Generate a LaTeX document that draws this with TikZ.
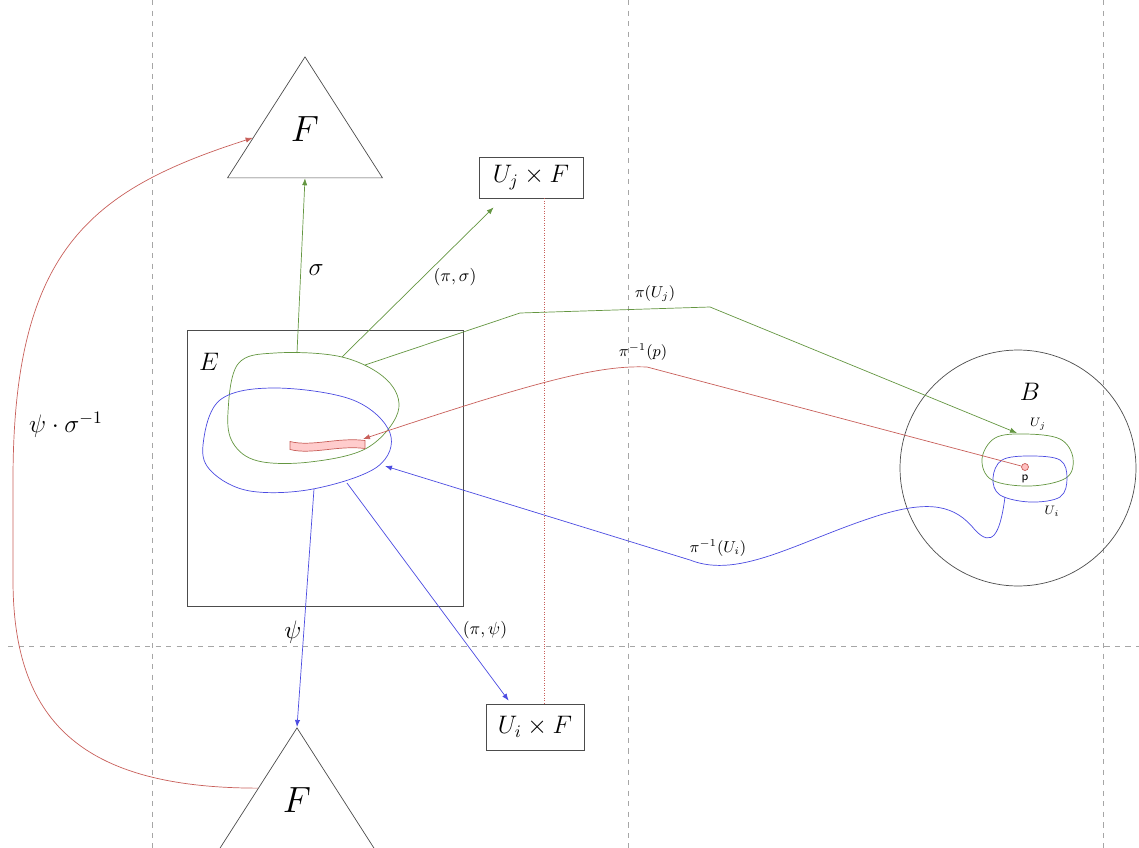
\documentclass[tikz,border=0pt]{standalone}
\usetikzlibrary{shapes.geometric,arrows.meta,calc}
\definecolor{fgreen}{RGB}{100,150,65}
\definecolor{fblue}{RGB}{75,75,225}
\definecolor{fred}{RGB}{200,95,90}

\begin{document}
\begin{tikzpicture}[x=0.02cm,y=-0.02cm,>={Latex[length=4pt,width=3pt]},
  grid/.style={black!35,dashed},
  tri/.style={draw=black!70,isosceles triangle,shape border rotate=90,isosceles triangle stretches,minimum width=3.1cm,minimum height=2.42cm,inner sep=0pt,text depth=9pt,anchor=apex},
  box/.style={draw=black!70,inner sep=0pt},
  gline/.style={fgreen},
  bline/.style={fblue},
  rline/.style={fred}]
\useasboundingbox (0,0) rectangle (1139,848);

\draw[grid] (152,0) -- (152,848);
\draw[grid] (628,0) -- (628,848);
\draw[grid] (1103,0) -- (1103,848);
\draw[grid] (8,646) -- (1139,646);

\node (Ft) at (305,56) [tri] {\huge $F$};
\node (Fb) at (297,727) [tri] {\huge $F$};
\node (UjF) at (531,177.5) [box, minimum width=2.08cm, minimum height=0.82cm] {\Large $U_j \times F$};
\node (UiF) at (535,727) [box, minimum width=1.96cm, minimum height=0.92cm] {\Large $U_i \times F$};
\draw[rline, densely dotted] (UjF.south -| 544,0) -- (UiF.north -| 544,0);

\node (E) at (325,468) [box, minimum size=5.52cm] {};
\node (El) at (209,362) {\Large $E$};
\draw[gline] plot[smooth cycle, tension=0.6] coordinates {(228,412) (238,364) (275,353) (342,357) (387,380) (398,412) (367,448) (310,462) (258,461) (233,443)};
\draw[bline] plot[smooth cycle, tension=0.6] coordinates {(203,445) (220,400) (275,388) (353,400) (390,433) (377,467) (313,489) (250,491) (212,472)};
\filldraw[fill=red!20, draw=fred] (290,441.5) .. controls (312,447) and (338,437) .. (365,440.5) -- (365,448.5) .. controls (338,445) and (312,455) .. (290,449.5) -- cycle;
\coordinate (gs) at (297,353);
\coordinate (gp) at (342,357);
\coordinate (gu) at (365,365);
\coordinate (bp) at (314,489);
\coordinate (bq) at (347,483);
\coordinate (bu) at (385,466);
\coordinate (band) at (363,439);

\node (B) at (1018,468) [draw=black!70, circle, minimum size=4.72cm] {};
\node (Bl) at (1030,392) {\Large $B$};
\draw[gline] plot[smooth cycle, tension=0.6] coordinates {(982,459) (995,438) (1025,434) (1060,439) (1073,458) (1066,478) (1030,486) (992,480)};
\draw[bline] plot[smooth cycle, tension=0.6] coordinates {(993,478) (1002,460) (1030,456) (1060,460) (1067,478) (1060,497) (1030,502) (1000,495)};
\node (p) at (1025,467) [circle, draw=fred, fill=red!25, inner sep=0pt, minimum size=0.14cm] {};
\node (pl) at (1025,479) {\sffamily\scriptsize p};
\node (Ujl) at (1038,424) {\scriptsize $U_j$};
\node (Uil) at (1052,511) {\scriptsize $U_i$};
\coordinate (uj) at (1017,433);
\coordinate (ui) at (1005,497);

\draw[->, gline] (gs) -- (Ft.lower side);
\node (ls) at (316,270) {\Large $\sigma$};
\draw[->, gline] (gp) -- ($(UjF.south west)+(15,9)$);
\node (lps) at (455,277) {$(\pi,\sigma)$};
\draw[->, bline] (bp) -- (Fb.apex);
\node (lpsi) at (293,632) {\Large $\psi$};
\draw[->, bline] (bq) -- ($(UiF.north west)+(23,-3)$);
\node (lpp) at (485,630) {$(\pi,\psi)$};

\draw[->, rline] (Fb.left side) .. controls (80,788) and (13,720) .. (13,580) -- (13,480) .. controls (13,250) and (90,190) .. ($(Ft.apex)!0.67!(Ft.left corner)$);
\node (lr) at (66,425) {\Large $\psi\cdot\sigma^{-1}$};

\draw[->, gline] (gu) -- (520,313) -- (710,307) -- (uj);
\node (lpu) at (655,294) {\small $\pi(U_j)$};
\draw[->, rline] (p) -- (647,367) .. controls (600,365) and (540,380) .. (band);
\node (lpp1) at (643,352) {\small $\pi^{-1}(p)$};
\draw[->, bline] (ui) .. controls (1000,535) and (992,548) .. (975,530) .. controls (955,505) and (930,500) .. (880,515) .. controls (800,540) and (740,580) .. (690,560) -- (bu);
\node (lpui) at (718,548) {\small $\pi^{-1}(U_i)$};
\end{tikzpicture}
\end{document}
